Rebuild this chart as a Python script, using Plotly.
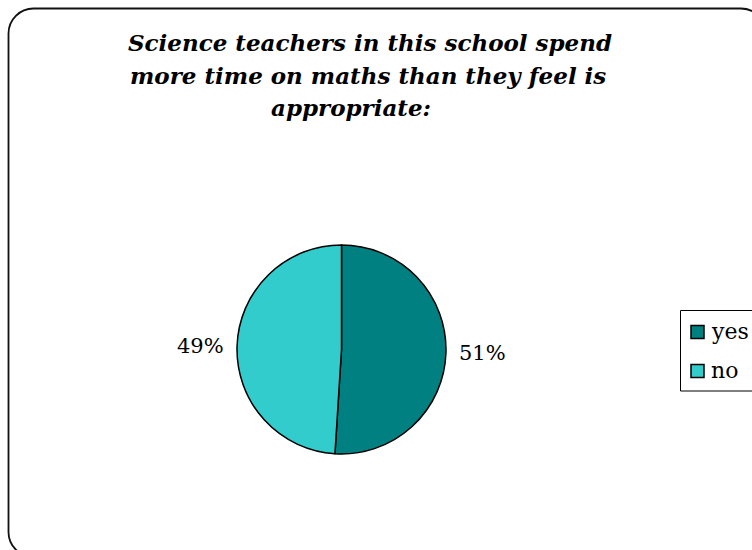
import math
import plotly.graph_objects as go

# Survey answers
categories = ["yes", "no"]
shares = [51, 49]
slice_colors = ["#008080", "#33CCCC"]
title_lines = [
    "Science teachers in this school spend",
    "more time on maths than they feel is",
    "appropriate:",
]

W, H = 752, 550
SERIF = "DejaVu Serif"

# Pie placement in pixels
PIE_CX, PIE_CY, PIE_R = 341.5, 349.5, 104.5


def px(x):
    return x / W


def py(y):
    return 1 - y / H


fig = go.Figure(
    go.Pie(
        labels=categories,
        values=shares,
        marker=dict(colors=slice_colors, line=dict(color="#000000", width=1.5)),
        sort=False,
        direction="clockwise",
        rotation=0,
        textinfo="none",
        showlegend=False,
        hoverinfo="label+percent",
        domain=dict(x=[px(PIE_CX - PIE_R), px(PIE_CX + PIE_R)],
                    y=[py(PIE_CY + PIE_R), py(PIE_CY - PIE_R)]),
    )
)

shapes = []
annotations = []

# Percentage labels just outside each slice, at its mid angle
total = sum(shares)
cum = 0
for v in shares:
    mid = (cum + v / 2) / total * 2 * math.pi
    cum += v
    s, c = math.sin(mid), math.cos(mid)
    gap = 11
    lx = PIE_CX + (PIE_R + gap) * s
    ly = PIE_CY - (PIE_R + gap) * c
    annotations.append(dict(
        text=f"{round(100 * v / total)}%", xref="paper", yref="paper",
        x=px(lx), y=py(ly), xanchor="left" if s >= 0 else "right",
        yanchor="middle", showarrow=False,
        font=dict(family=SERIF, size=21, color="#000000"),
    ))

# Rounded outer frame
x0, y0, x1, y1, r = 8.5, 8.5, 766, 557, 25
k = 0.45
path = (
    f"M {px(x0 + r)},{py(y0)} L {px(x1 - r)},{py(y0)} "
    f"C {px(x1 - r * k)},{py(y0)} {px(x1)},{py(y0 + r * k)} {px(x1)},{py(y0 + r)} "
    f"L {px(x1)},{py(y1 - r)} "
    f"C {px(x1)},{py(y1 - r * k)} {px(x1 - r * k)},{py(y1)} {px(x1 - r)},{py(y1)} "
    f"L {px(x0 + r)},{py(y1)} "
    f"C {px(x0 + r * k)},{py(y1)} {px(x0)},{py(y1 - r * k)} {px(x0)},{py(y1 - r)} "
    f"L {px(x0)},{py(y0 + r)} "
    f"C {px(x0)},{py(y0 + r * k)} {px(x0 + r * k)},{py(y0)} {px(x0 + r)},{py(y0)} Z"
)
shapes.append(dict(type="path", xref="paper", yref="paper", path=path,
                   line=dict(color="#111111", width=1.8), layer="below"))

# Title, one centred line at a time
title_centres = [370, 368, 351]
for i, (line, cx) in enumerate(zip(title_lines, title_centres)):
    annotations.append(dict(
        text=f"<b><i>{line}</i></b>", xref="paper", yref="paper",
        x=px(cx), y=py(42 + i * 33), xanchor="center", yanchor="middle",
        showarrow=False, font=dict(family=SERIF, size=23, color="#000000"),
    ))

# Legend box with a swatch and label per category
shapes.append(dict(type="rect", xref="paper", yref="paper",
                   x0=px(680.5), x1=px(800), y0=py(391), y1=py(310.5),
                   line=dict(color="#000000", width=1), fillcolor="rgba(0,0,0,0)"))
for i, (name, col) in enumerate(zip(categories, slice_colors)):
    cy = 332 + i * 39
    shapes.append(dict(type="rect", xref="paper", yref="paper",
                       x0=px(691), x1=px(704), y0=py(cy + 6.5), y1=py(cy - 6.5),
                       line=dict(color="#000000", width=1.5), fillcolor=col))
    annotations.append(dict(
        text=name, xref="paper", yref="paper", x=px(709), y=py(cy - 1),
        xanchor="left", yanchor="middle", showarrow=False,
        font=dict(family=SERIF, size=22, color="#000000"),
    ))

fig.update_layout(
    width=W, height=H,
    margin=dict(l=0, r=0, t=0, b=0),
    paper_bgcolor="#ffffff",
    plot_bgcolor="#ffffff",
    shapes=shapes,
    annotations=annotations,
)

fig.write_html("out.html")
